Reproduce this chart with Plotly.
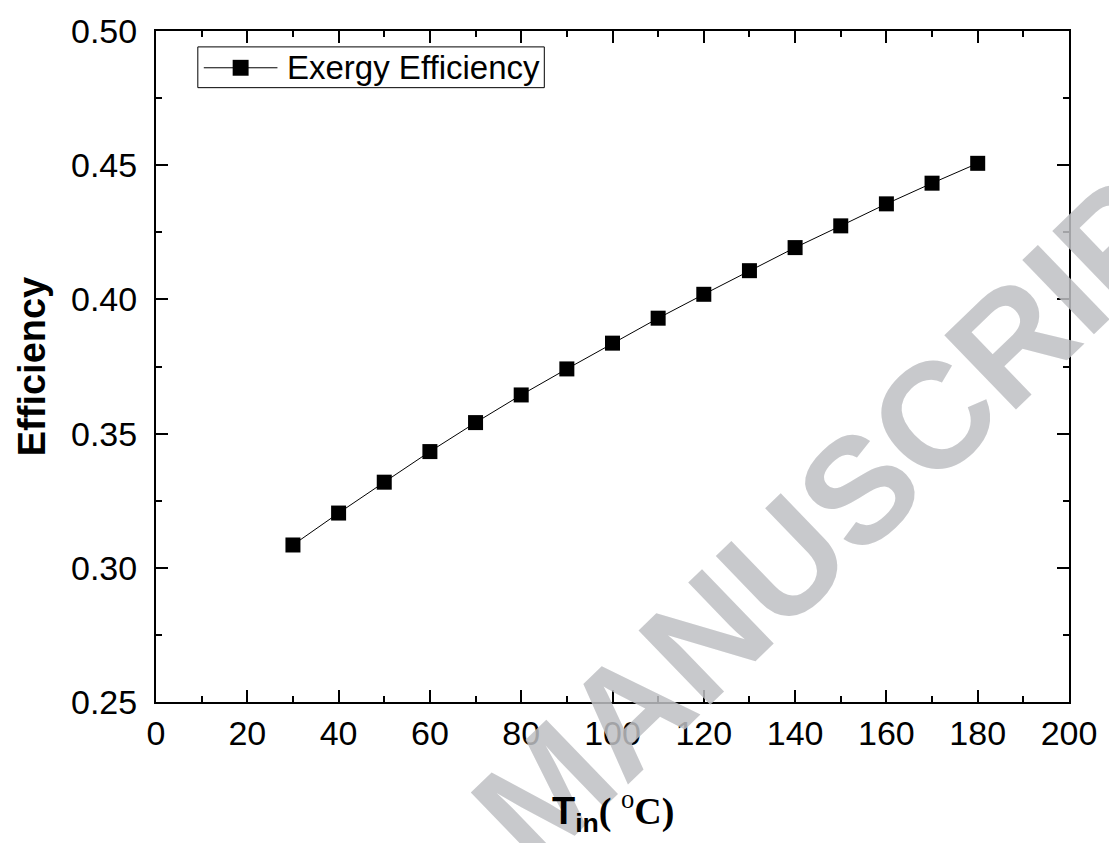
import plotly.graph_objects as go

temps = [30, 40, 50, 60, 70, 80, 90, 100, 110, 120, 130, 140, 150, 160, 170, 180]
exergy_eff = [0.3085, 0.3204, 0.3319, 0.3433, 0.3541, 0.3644, 0.3741, 0.3837,
              0.3930, 0.4019, 0.4107, 0.4193, 0.4274, 0.4356, 0.4433, 0.4507]
series_name = "Exergy Efficiency"

FONT = "Liberation Sans, Arial, sans-serif"
SERIF = "Liberation Serif, Times New Roman, serif"

W, H = 1109, 843
ML, MR, MT, MB = 156, 36, 27, 141
PW, PH = W - ML - MR, H - MT - MB


def px(xp):
    return (xp - ML) / PW


def py(yp):
    return (H - MB - yp) / PH


fig = go.Figure()
fig.add_trace(go.Scatter(
    x=temps, y=exergy_eff, name=series_name, mode="lines+markers",
    line=dict(color="black", width=1),
    marker=dict(symbol="square", size=15, color="black"),
    showlegend=False,
))

axis_common = dict(
    showline=True, linecolor="black", linewidth=2, mirror="allticks",
    ticks="inside", ticklen=12, tickwidth=2, tickcolor="black",
    showgrid=False, zeroline=False,
    tickfont=dict(family=FONT, size=34, color="black"),
)

fig.update_xaxes(
    range=[0, 200], tick0=0, dtick=20,
    minor=dict(ticks="inside", ticklen=6, tickwidth=2, tickcolor="black", dtick=10, showgrid=False),
    ticklabelstandoff=0,
    **axis_common,
)
fig.update_yaxes(
    range=[0.25, 0.50], tick0=0.25, dtick=0.05, tickformat=".2f",
    minor=dict(ticks="inside", ticklen=6, tickwidth=2, tickcolor="black", dtick=0.025, showgrid=False),
    ticklabelstandoff=10,
    title=dict(text="<b>Efficiency</b>", font=dict(family=FONT, size=38, color="black"), standoff=14),
    **axis_common,
)

# watermark (drawn first so chart text sits on top)
fig.add_annotation(
    xref="paper", yref="paper", x=px(862), y=py(488), xanchor="center", yanchor="middle",
    showarrow=False, textangle=-44,
    text="<b>MANUSCRIPT</b>",
    font=dict(family=FONT, size=150, color="rgba(190,192,195,0.85)"),
)

# x-axis title
fig.add_annotation(
    xref="paper", yref="paper", x=0.5, y=py(812), xanchor="center", yanchor="middle",
    showarrow=False,
    text=("<b>T</b><sub><b>in</b></sub>"
          f"<span style='font-family:{SERIF}'><b>( </b><sup>o</sup><b>C)</b></span>"),
    font=dict(family=FONT, size=38, color="black"),
)

# legend box (drawn manually to match the line-square-line symbol)
fig.add_shape(type="rect", xref="paper", yref="paper",
              x0=px(198), x1=px(546), y0=py(84), y1=py(43),
              line=dict(color="black", width=1), fillcolor="white", layer="below")
fig.add_shape(type="line", xref="paper", yref="paper",
              x0=px(204), x1=px(278), y0=py(64), y1=py(64),
              line=dict(color="black", width=1))
fig.add_shape(type="rect", xref="paper", yref="paper",
              x0=px(233), x1=px(249), y0=py(72), y1=py(56),
              line=dict(color="black", width=0), fillcolor="black")
fig.add_annotation(
    xref="paper", yref="paper", x=px(286), y=py(64), xanchor="left", yanchor="middle",
    showarrow=False, text=series_name,
    font=dict(family=FONT, size=33, color="black"),
)

fig.update_layout(
    width=W, height=H,
    margin=dict(l=ML, r=MR, t=MT, b=MB),
    paper_bgcolor="white", plot_bgcolor="white",
    showlegend=False,
)

fig.write_html("out.html")
